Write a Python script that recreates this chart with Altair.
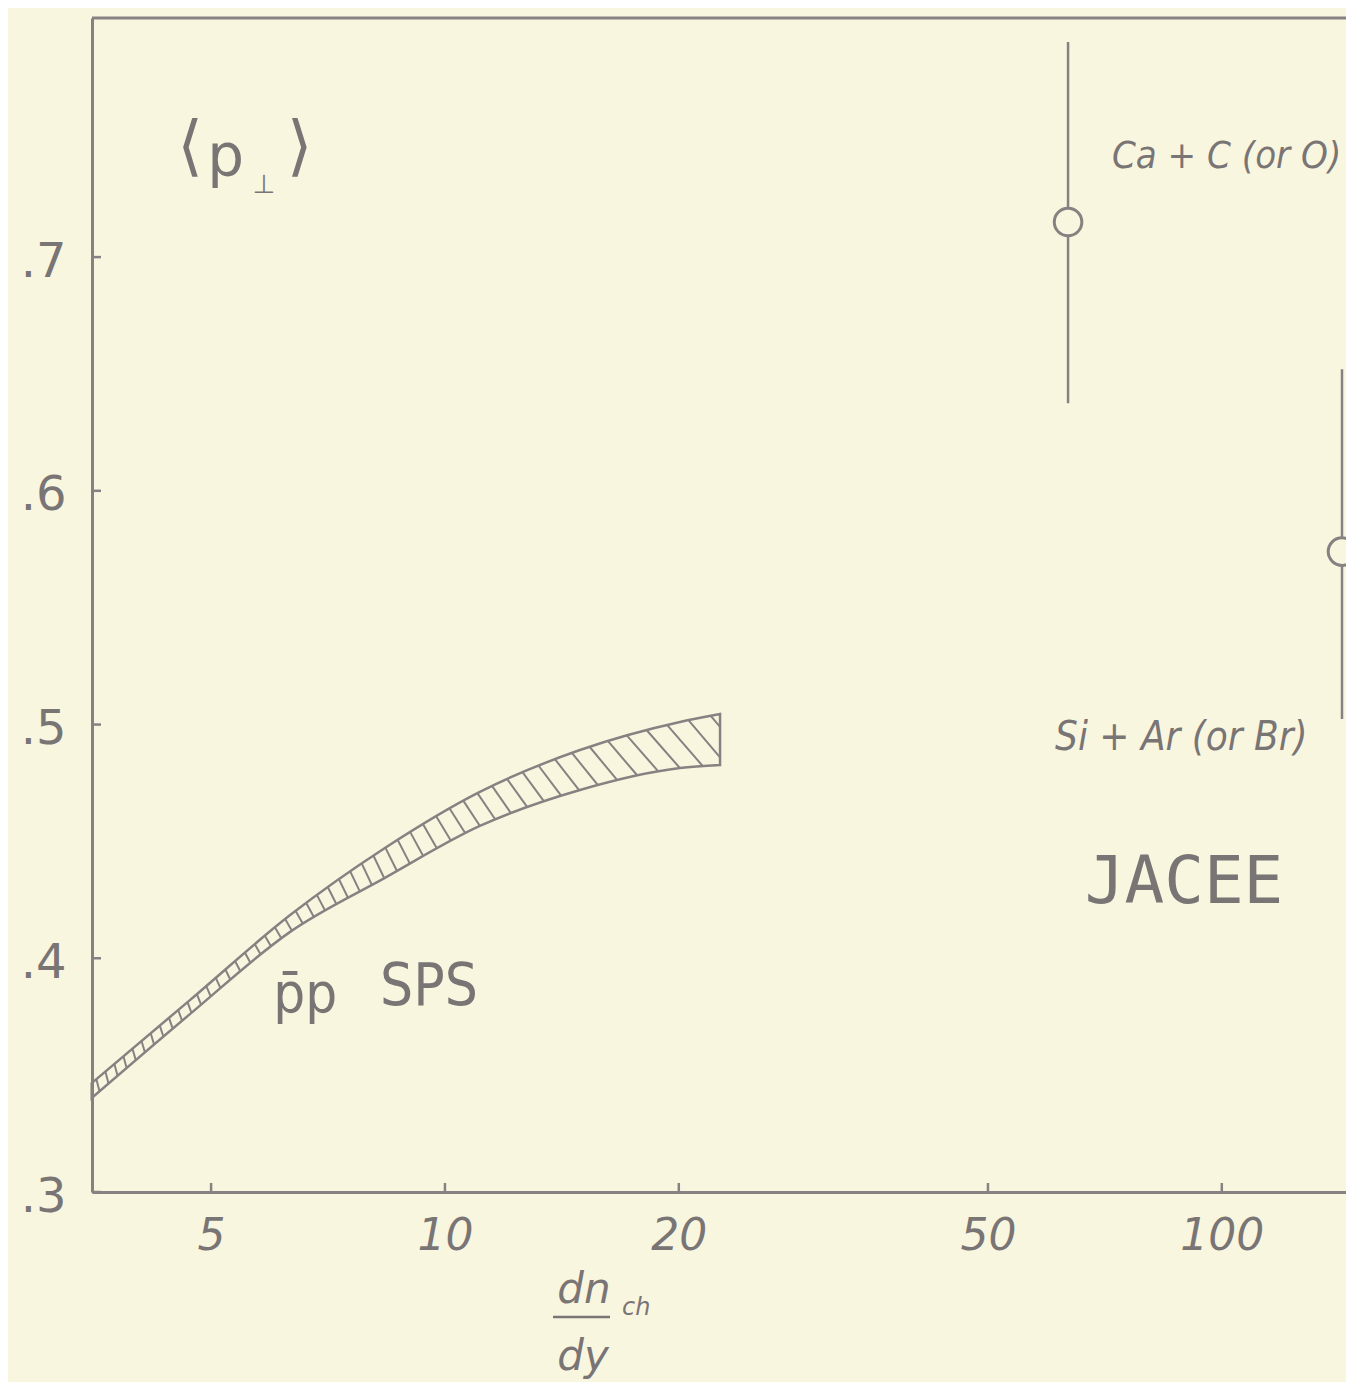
import altair as alt
import numpy as np
import pandas as pd

# ---------------- data ----------------
# p-bar p SPS band (upper / lower edge), x = dn_ch/dy
band_x = [3.51, 4.70, 6.32, 8.37, 11.09, 14.92, 20.07, 22.6]
band_hi = [0.3466, 0.3822, 0.4185, 0.4472, 0.4712, 0.4891, 0.5011, 0.5045]
band_lo = [0.3402, 0.3762, 0.4113, 0.4344, 0.4566, 0.4720, 0.4814, 0.4827]

# JACEE points with error bars
pt_name = ["Ca + C (or O)", "Si + Ar (or Br)"]
pt_x = [63.4, 142.8]
pt_y = [0.715, 0.574]
pt_lo = [0.6375, 0.5024]
pt_hi = [0.792, 0.652]

x_ticks = [5, 10, 20, 50, 100]
y_ticks = [0.3, 0.4, 0.5, 0.6, 0.7]

# ---------------- styling ----------------
BG = "#f9f6e0"
INK = "#878282"
TXT = "#7a7575"
W, H = 1254, 1174
FONT = "DejaVu Sans"
NARROW = "Liberation Sans Narrow, DejaVu Sans Condensed, DejaVu Sans"

xs = alt.Scale(type="log", domain=[3.513, 144.5], nice=False)
ys = alt.Scale(domain=[0.3, 0.8023], nice=False, zero=False)

x_axis = alt.Axis(values=x_ticks, ticks=False, tickSize=0, grid=False,
                  domainColor=INK, domainWidth=3, labelColor=TXT,
                  labelFont=FONT, labelFontSize=44, labelFontStyle="italic",
                  labelPadding=22, labelBaseline="top", title="")
y_axis = alt.Axis(values=y_ticks, ticks=False, tickSize=0, grid=False,
                  domainColor=INK, domainWidth=3, labelColor=TXT,
                  labelFont=FONT, labelFontSize=48, labelPadding=26,
                  labelBaseline="middle", labelOffset=5,
                  labelExpr="replace(format(datum.value, '.1f'), '0.', '.')",
                  title="")


def X(field):
    return alt.X(field, type="quantitative", scale=xs, axis=x_axis)


def Y(field):
    return alt.Y(field, type="quantitative", scale=ys, axis=y_axis)


# ---------------- monotone curve (same as d3 curveMonotoneX) ----------------
def monotone_eval(xk, yk, q):
    xk = np.asarray(xk, float)
    yk = np.asarray(yk, float)
    n = len(xk)
    h = np.diff(xk)
    s = np.diff(yk) / h
    t = np.zeros(n)
    sg = lambda v: -1.0 if v < 0 else 1.0
    for i in range(1, n - 1):
        p = (s[i - 1] * h[i] + s[i] * h[i - 1]) / (h[i - 1] + h[i])
        t[i] = (sg(s[i - 1]) + sg(s[i])) * min(abs(s[i - 1]), abs(s[i]), 0.5 * abs(p))
    t[0] = (3 * s[0] - t[1]) / 2
    t[-1] = (3 * s[-1] - t[-2]) / 2
    i = int(np.clip(np.searchsorted(xk, q) - 1, 0, n - 2))
    dx = h[i]
    u = (q - xk[i]) / dx
    h00 = 2 * u**3 - 3 * u**2 + 1
    h10 = u**3 - 2 * u**2 + u
    h01 = -2 * u**3 + 3 * u**2
    h11 = u**3 - u**2
    return h00 * yk[i] + h10 * dx * t[i] + h01 * yk[i + 1] + h11 * dx * t[i + 1]


# hatch strokes across the band (decoration derived from the band edges)
lbx = np.log10(band_x)
l0, l1 = lbx[0], lbx[-1]
lo_end = band_lo[-1]
hatch = []
s = l0 + 0.006
while s < l1 - 0.003:
    f = (s - l0) / (l1 - l0)
    d = 0.004 + 0.05 * f**2
    y_top = monotone_eval(lbx, band_hi, s)
    e = s + d
    if e <= l1:
        y_bot = monotone_eval(lbx, band_lo, e)
        xe = e
    else:
        y_bot = y_top + (lo_end - y_top) * (l1 - s) / d
        xe = l1
    hatch.append({"x": 10**s, "y": y_top, "x2": 10**xe, "y2": y_bot})
    s += 0.0116 + 0.019 * f**2
hatch_df = pd.DataFrame(hatch)

band_df = pd.DataFrame({"x": band_x, "hi": band_hi, "lo": band_lo})
pt_df = pd.DataFrame({"name": pt_name, "x": pt_x, "y": pt_y, "lo": pt_lo, "hi": pt_hi})
xt_df = pd.DataFrame({"v": x_ticks})
yt_df = pd.DataFrame({"v": y_ticks})
one = pd.DataFrame({"a": [0]})

# ---------------- layers ----------------
band = alt.Chart(band_df).mark_area(
    interpolate="monotone", fill=BG, fillOpacity=0, stroke=INK, strokeWidth=2.5
).encode(x=X("x"), y=Y("hi"), y2="lo")

hatch_l = alt.Chart(hatch_df).mark_rule(color=INK, strokeWidth=2).encode(
    x=X("x"), y=Y("y"), x2="x2", y2="y2")

err = alt.Chart(pt_df).mark_rule(color=INK, strokeWidth=2.5, clip=True).encode(
    x=X("x"), y=Y("lo"), y2="hi")

pts = alt.Chart(pt_df).mark_point(
    shape="circle", filled=True, fill=BG, fillOpacity=1, stroke=INK,
    strokeWidth=3, strokeOpacity=1, size=760, clip=True
).encode(x=X("x"), y=Y("y"))

xtk = alt.Chart(xt_df).mark_rule(color=INK, strokeWidth=2.5).encode(
    x=X("v"), y=alt.value(H), y2=alt.value(H - 9))
ytk = alt.Chart(yt_df).mark_rule(color=INK, strokeWidth=2.5).encode(
    y=Y("v"), x=alt.value(0), x2=alt.value(9))
top = alt.Chart(one).mark_rule(color=INK, strokeWidth=3).encode(
    x=alt.value(0), x2=alt.value(W), y=alt.value(0))


def label(text, x, y, size, align="left", baseline="alphabetic", font=FONT, style="normal"):
    return alt.Chart(pd.DataFrame({"t": [text], "x": [x], "y": [y]})).mark_text(
        text=text, align=align, baseline=baseline, font=font, fontSize=size,
        fontStyle=style, color=TXT
    ).encode(x=X("x"), y=Y("y"))


def plabel(text, px, py, size, align="center", baseline="alphabetic", font=FONT, style="normal"):
    return alt.Chart(one).mark_text(
        text=text, align=align, baseline=baseline, font=font, fontSize=size,
        fontStyle=style, color=TXT
    ).encode(x=alt.value(px), y=alt.value(py))


texts = [
    label("⟨", 4.70, 0.7467, 66, align="center", baseline="middle"),
    label("p", 5.22, 0.7347, 58, align="center"),
    label("⊥", 5.85, 0.7275, 26, align="center"),
    label("⟩", 6.50, 0.7467, 66, align="center", baseline="middle"),
    label("Ca + C (or O)", 72.2, 0.7382, 38, font=NARROW, style="italic"),
    label("Si + Ar (or Br)", 61.0, 0.4891, 40, font=NARROW, style="italic"),
    label("JACEE", 66.6, 0.4237, 66, font="DejaVu Sans Mono"),
    label("p\u0304p", 6.01, 0.377, 56, font=NARROW),
    label("SPS", 8.25, 0.380, 58, font=NARROW),
    plabel("dn", 492, 1285, 42, style="italic"),
    plabel("ch", 530, 1297, 24, align="left", style="italic"),
    plabel("dy", 491, 1352, 42, style="italic"),
]
frac = alt.Chart(one).mark_rule(color=TXT, strokeWidth=2.5).encode(
    x=alt.value(461), x2=alt.value(518), y=alt.value(1299))

chart = alt.layer(
    band, hatch_l, err, pts, xtk, ytk, top, frac, *texts
).properties(
    width=W, height=H,
    padding={"left": 84, "top": 10, "right": 0, "bottom": 190},
    autosize="none", background=BG,
).configure_view(strokeWidth=0)

chart.save("out.html", embed_options={"renderer": "svg", "actions": False})
